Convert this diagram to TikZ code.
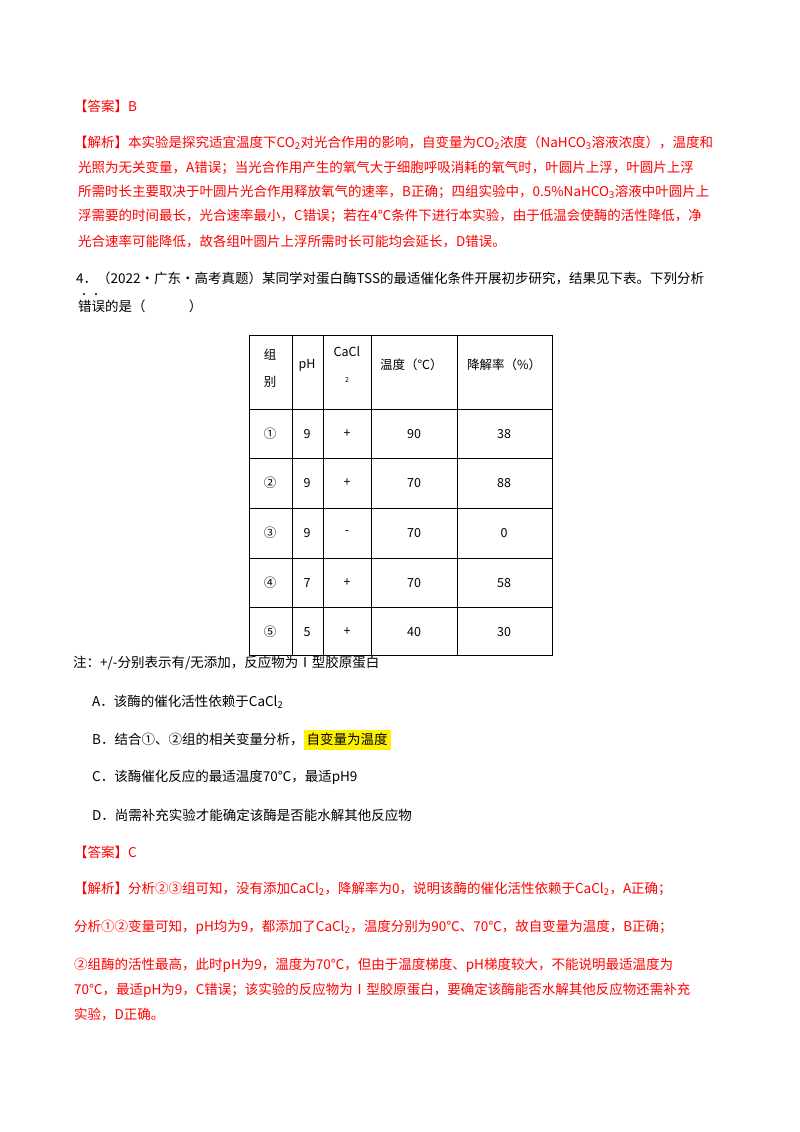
\documentclass[tikz,border=0pt]{standalone}
\usepackage{fontspec}
\setmainfont{Noto Sans CJK SC}
\begin{document}
\begin{tikzpicture}[x=1pt,y=-1pt,
 t/.style={anchor=west,inner sep=0pt,font=\fontsize{13.5}{15}\selectfont},
 r/.style={t,text=red},
 c/.style={inner sep=0pt,font=\fontsize{12.5}{14}\selectfont}]
\useasboundingbox (0,0) rectangle (800,1132);
\fill[white] (0,0) rectangle (800,1132);
\node[r] (a1) at (74,106) {【答案】B};
\node[r] (p1) at (74,143) {【解析】本实验是探究适宜温度下CO\textsubscript{2}对光合作用的影响，自变量为CO\textsubscript{2}浓度（NaHCO\textsubscript{3}溶液浓度），温度和};
\node[r] (p2) at (78,168) {光照为无关变量，A错误；当光合作用产生的氧气大于细胞呼吸消耗的氧气时，叶圆片上浮，叶圆片上浮};
\node[r] (p3) at (78,192) {所需时长主要取决于叶圆片光合作用释放氧气的速率，B正确；四组实验中，0.5\%NaHCO\textsubscript{3}溶液中叶圆片上};
\node[r] (p4) at (78,216) {浮需要的时间最长，光合速率最小，C错误；若在4℃条件下进行本实验，由于低温会使酶的活性降低，净};
\node[r] (p5) at (78,241) {光合速率可能降低，故各组叶圆片上浮所需时长可能均会延长，D错误。};
\node[t] (q1) at (76,278) {4．（2022•广东•高考真题）某同学对蛋白酶TSS的最适催化条件开展初步研究，结果见下表。下列分析};
\node[t] (q2) at (78,306) {错误的是（\hspace{3.2em}）};
\fill (84,294) circle (1.1) (96,294) circle (1.1);
% table
\draw[line width=1pt] (249,335) rectangle (552,655);
\foreach \x in {292,323,371,457} \draw[line width=1pt] (\x,335) -- (\x,655);
\foreach \y in {409,458,508,558,607} \draw[line width=1pt] (249,\y) -- (552,\y);
\node[c] (h1) at (270,355) {组};
\node[c] (h1b) at (270,382) {别};
\node[c] (h2) at (307,365) {pH};
\node[c] (h3) at (347,352) {CaCl};
\node[c,font=\fontsize{7}{8}\selectfont] (h3b) at (347,380) {2};
\node[c,anchor=west] (h4) at (380,365) {温度（℃）};
\node[c,anchor=west] (h5) at (467,365) {降解率（\%）};
\foreach \y/\g/\p/\ca/\tt/\rr in {434/①/9/+/90/38, 483/②/9/+/70/88, 533/③/9/-/70/0, 583/④/7/+/70/58, 632/⑤/5/+/40/30}{
 \node[c] at (270,\y) {\g};
 \node[c] at (307,\y) {\p};
 \node[c] at (347,\y) {\ca};
 \node[c] at (414,\y) {\tt};
 \node[c] at (504,\y) {\rr};}
\node[t] (n1) at (73,663) {注：+/-分别表示有/无添加，反应物为Ⅰ型胶原蛋白};
\node[t] (oa) at (92,702) {A．该酶的催化活性依赖于CaCl\textsubscript{2}};
\node[t] (ob) at (92,740) {B．结合①、②组的相关变量分析，\colorbox{yellow}{\rule[-2pt]{0pt}{12pt}自变量为温度}};
\node[t] (oc) at (92,777) {C．该酶催化反应的最适温度70℃，最适pH9};
\node[t] (od) at (92,815) {D．尚需补充实验才能确定该酶是否能水解其他反应物};
\node[r] (a2) at (74,852) {【答案】C};
\node[r] (s1) at (74,889) {【解析】分析②③组可知，没有添加CaCl\textsubscript{2}，降解率为0，说明该酶的催化活性依赖于CaCl\textsubscript{2}，A正确；};
\node[r] (s2) at (74,927) {分析①②变量可知，pH均为9，都添加了CaCl\textsubscript{2}，温度分别为90℃、70℃，故自变量为温度，B正确；};
\node[r] (s3) at (74,965) {②组酶的活性最高，此时pH为9，温度为70℃，但由于温度梯度、pH梯度较大，不能说明最适温度为};
\node[r] (s4) at (74,990) {70℃，最适pH为9，C错误；该实验的反应物为Ⅰ型胶原蛋白，要确定该酶能否水解其他反应物还需补充};
\node[r] (s5) at (74,1014) {实验，D正确。};
\end{tikzpicture}
\end{document}
